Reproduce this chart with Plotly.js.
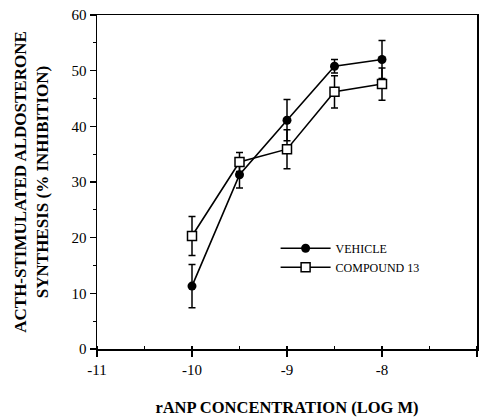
<!DOCTYPE html>
<html><head><meta charset="utf-8">
<script src="https://cdn.plot.ly/plotly-3.0.1.min.js"></script>
<style>html,body{margin:0;padding:0;background:#fff}</style>
</head><body><div id="chart" style="width:483px;height:417px"></div>
<script>
const logConc = [-10, -9.5, -9, -8.5, -8];
const vehicle = [11.3, 31.3, 41.1, 50.8, 52.0];
const vehicleErr = [3.9, 2.4, 3.7, 1.2, 3.4];
const compound13 = [20.3, 33.6, 35.9, 46.2, 47.6];
const compound13Err = [3.5, 1.7, 3.5, 2.9, 2.9];
const seriesNames = ["VEHICLE", "COMPOUND 13"];

const serif = "Liberation Serif, Times New Roman, serif";
const traces = [
  {x: logConc, y: vehicle, name: seriesNames[0], type: "scatter", mode: "lines+markers",
   line: {color: "#000", width: 1.6},
   marker: {symbol: "circle", size: 9, color: "#000"},
   error_y: {type: "data", array: vehicleErr, visible: true, color: "#000", thickness: 1.5, width: 3.5}},
  {x: logConc, y: compound13, name: seriesNames[1], type: "scatter", mode: "lines+markers",
   line: {color: "#000", width: 1.6},
   marker: {symbol: "square", size: 9, color: "#fff", line: {color: "#000", width: 1.5}},
   error_y: {type: "data", array: compound13Err, visible: true, color: "#000", thickness: 1.5, width: 3.5}}
];
const layout = {
  width: 483, height: 417,
  margin: {l: 97, r: 6, t: 15, b: 68},
  paper_bgcolor: "#fff", plot_bgcolor: "#fff",
  font: {family: serif, color: "#000", size: 14},
  showlegend: true,
  legend: {x: 0.47, y: 0.345, xanchor: "left", yanchor: "top", bgcolor: "rgba(0,0,0,0)",
           font: {family: serif, size: 12}, tracegroupgap: 0, itemwidth: 50},
  xaxis: {range: [-11, -7], tickvals: [-11, -10, -9, -8, -7], ticktext: ["-11", "-10", "-9", "-8", "-7"],
          showgrid: false, zeroline: false, showline: true, linecolor: "#000", linewidth: 1.5, mirror: true,
          ticks: "outside", ticklen: 6, tickwidth: 1.5, tickcolor: "#000",
          minor: {dtick: 0.5, ticks: "inside", ticklen: 3, tickwidth: 1.2, tickcolor: "#000", showgrid: false},
          tickfont: {family: serif, size: 15},
          title: {text: "<b>rANP CONCENTRATION (LOG M)</b>", font: {family: serif, size: 16.5}, standoff: 30}},
  yaxis: {range: [0, 60], dtick: 10,
          showgrid: false, zeroline: false, showline: true, linecolor: "#000", linewidth: 1.5, mirror: true,
          ticks: "outside", ticklen: 6, tickwidth: 1.5, tickcolor: "#000",
          minor: {dtick: 5, ticks: "outside", ticklen: 3, tickwidth: 1.2, tickcolor: "#000", showgrid: false},
          tickfont: {family: serif, size: 15},
          title: {text: "<b>ACTH-STIMULATED ALDOSTERONE<br>SYNTHESIS (% INHIBITION)</b>", font: {family: serif, size: 17}, standoff: 18}}
};
Plotly.newPlot("chart", traces, layout, {displayModeBar: false, staticPlot: true});
</script></body></html>
